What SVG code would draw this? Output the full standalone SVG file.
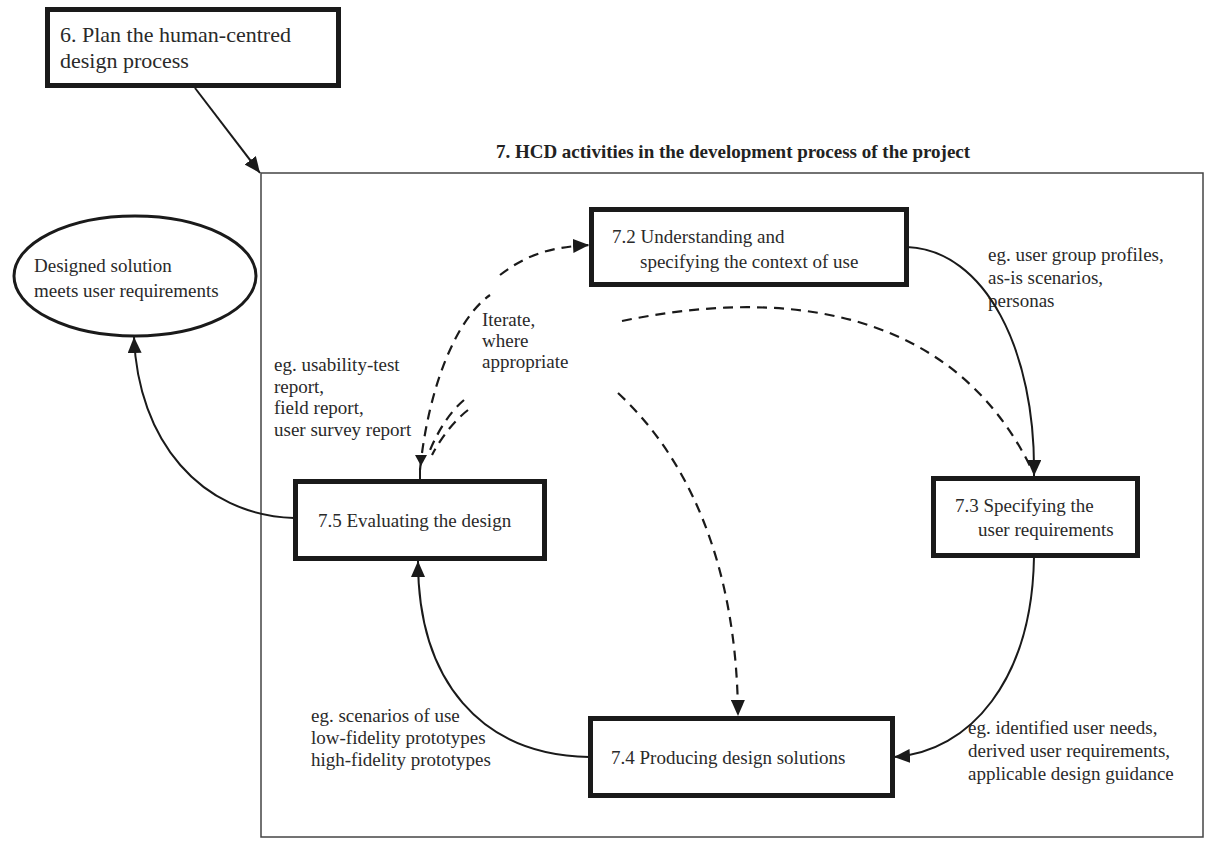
<svg xmlns="http://www.w3.org/2000/svg" width="1217" height="849" viewBox="0 0 1217 849">
<style>
.box{fill:#fff;stroke:#1a1a1a;stroke-width:5}
.t{font-family:"Liberation Serif","Times New Roman",serif;font-size:19px;fill:#2a2a2a}
.big{font-size:22px}
.title{font-family:"Liberation Serif","Times New Roman",serif;font-size:19px;font-weight:bold;fill:#222}
.c{fill:none;stroke:#1a1a1a;stroke-width:2}
.d{fill:none;stroke:#1a1a1a;stroke-width:2.2;stroke-dasharray:10,7}
</style>
<defs>
<marker id="ah" markerUnits="userSpaceOnUse" markerWidth="16" markerHeight="14" refX="16" refY="7" orient="auto">
<path d="M0,0 L16,7 L0,14 z" fill="#1a1a1a"/>
</marker>
</defs>
<rect width="1217" height="849" fill="#fff"/>

<g id="frame">
<rect x="261" y="173" width="942" height="664" fill="none" stroke="#444" stroke-width="1.5"/>
<text class="title" x="733" y="158" text-anchor="middle">7. HCD activities in the development process of the project</text>
</g>

<g id="node6">
<rect class="box" x="47.5" y="9.5" width="291" height="76"/>
<text class="t big" x="60" y="42">6. Plan the human-centred</text>
<text class="t big" x="60" y="68">design process</text>
</g>

<g id="ellipse">
<ellipse cx="135" cy="276" rx="121" ry="60" fill="#fff" stroke="#1a1a1a" stroke-width="3"/>
<text class="t" x="34" y="272">Designed solution</text>
<text class="t" x="34" y="297">meets user requirements</text>
</g>

<g id="node72">
<rect class="box" x="591.5" y="209.5" width="315" height="75"/>
<text class="t" x="612" y="243">7.2 Understanding and</text>
<text class="t" x="640" y="268">specifying the context of use</text>
</g>

<g id="node73">
<rect class="box" x="933.5" y="478.5" width="204" height="77"/>
<text class="t" x="955" y="512">7.3 Specifying the</text>
<text class="t" x="978" y="536">user requirements</text>
</g>

<g id="node74">
<rect class="box" x="590.5" y="718.5" width="302" height="77"/>
<text class="t" x="611" y="764">7.4 Producing design solutions</text>
</g>

<g id="node75">
<rect class="box" x="295.5" y="481.5" width="249" height="77"/>
<text class="t" x="318" y="527">7.5 Evaluating the design</text>
</g>

<g id="labels">
<text class="t" x="988" y="261">eg. user group profiles,</text>
<text class="t" x="988" y="284">as-is scenarios,</text>
<text class="t" x="988" y="307">personas</text>
<text class="t" x="482" y="326">Iterate,</text>
<text class="t" x="482" y="347">where</text>
<text class="t" x="482" y="368">appropriate</text>
<text class="t" x="274" y="371">eg. usability-test</text>
<text class="t" x="274" y="393">report,</text>
<text class="t" x="274" y="414">field report,</text>
<text class="t" x="274" y="436">user survey report</text>
<text class="t" x="311" y="722">eg. scenarios of use</text>
<text class="t" x="311" y="744">low-fidelity prototypes</text>
<text class="t" x="311" y="766">high-fidelity prototypes</text>
<text class="t" x="968" y="734">eg. identified user needs,</text>
<text class="t" x="968" y="757">derived user requirements,</text>
<text class="t" x="968" y="780">applicable design guidance</text>
</g>

<g id="connectors">
<path class="c" d="M195,88 L260,173" marker-end="url(#ah)"/>
<path class="c" d="M907,247 C985,250 1036,350 1034,476" marker-end="url(#ah)"/>
<path class="c" d="M1034,557 C1032,680 970,752 894,757" marker-end="url(#ah)"/>
<path class="c" d="M589,757 C480,755 418,680 418,561" marker-end="url(#ah)"/>
<path class="c" d="M294,518 C200,515 138,440 134,337" marker-end="url(#ah)"/>
<path class="d" d="M420,470 C428,390 455,320 490,295"/>
<path class="d" d="M500,275 C530,252 555,247 589,245" marker-end="url(#ah)"/>
<path class="d" d="M464,400 C450,412 438,430 428,455"/>
<path class="d" d="M468,410 C455,420 442,436 432,455"/>
<path fill="#1a1a1a" d="M415,455 L427,455 L421,466 z"/>
<path class="c" d="M420,468 L420,480"/>
<path class="d" d="M622,321 C770,290 950,300 1032,470"/>
<path class="d" d="M618,393 C685,455 737,560 738,716" marker-end="url(#ah)"/>
</g>
</svg>
